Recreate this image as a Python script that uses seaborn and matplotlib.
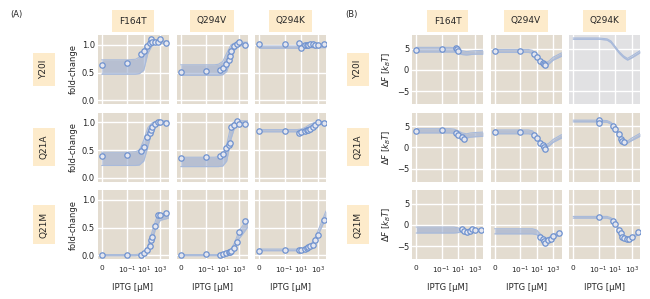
import numpy as np
import pandas as pd
import matplotlib
matplotlib.use("Agg")
import matplotlib.pyplot as plt
import seaborn as sns

# ---- labels ----
rows = ["Y20I", "Q21A", "Q21M"]
cols = ["F164T", "Q294V", "Q294K"]

# ---- IPTG concentrations [uM] ----
conc = [0, 0.1, 5, 10, 25, 50, 75, 100, 250, 500, 1000, 5000]
curve_x = [0, 0.1, 1, 3, 10, 30, 100, 300, 1000, 10000]

# ---- (A) fold-change data ----
fc_Y20I_F164T = [0.63, 0.67, 0.83, 0.89, 0.98, 1.04, 1.10, 1.05, 1.06, 1.05, 1.10, 1.03]
fc_Y20I_Q294V = [0.51, 0.53, 0.55, 0.59, 0.66, 0.72, 0.80, 0.89, 0.98, 1.01, 1.05, 0.99]
fc_Y20I_Q294K = [1.01, 1.01, 1.04, 0.95, 0.99, 0.99, 0.99, 1.01, 1.01, 1.00, 1.00, 1.02]
fc_Q21A_F164T = [0.39, 0.41, 0.49, 0.55, 0.73, 0.80, 0.86, 0.92, 0.98, 1.00, 1.01, 0.99]
fc_Q21A_Q294V = [0.36, 0.38, 0.39, 0.43, 0.53, 0.59, 0.62, 0.91, 0.95, 1.02, 0.98, 0.98]
fc_Q21A_Q294K = [0.84, 0.85, 0.81, 0.83, 0.85, 0.86, 0.86, 0.89, 0.92, 0.96, 1.01, 0.99]
fc_Q21M_F164T = [0.00, 0.00, 0.01, 0.03, 0.09, 0.16, 0.27, 0.33, 0.52, 0.72, 0.72, 0.76]
fc_Q21M_Q294V = [0.00, 0.02, 0.01, 0.02, 0.04, 0.05, 0.05, 0.07, 0.13, 0.23, 0.42, 0.61]
fc_Q21M_Q294K = [0.08, 0.09, 0.09, 0.10, 0.11, 0.13, 0.15, 0.17, 0.19, 0.27, 0.37, 0.64]

# ---- (A) fold-change credible regions (lower, upper) ----
fc_lo_Y20I_F164T = [0.47, 0.47, 0.47, 0.48, 0.54, 0.84, 0.99, 1.03, 1.03, 1.03]
fc_hi_Y20I_F164T = [0.73, 0.73, 0.74, 0.78, 0.93, 1.03, 1.06, 1.07, 1.07, 1.07]
fc_lo_Y20I_Q294V = [0.45, 0.45, 0.45, 0.45, 0.46, 0.52, 0.75, 0.92, 0.98, 1.00]
fc_hi_Y20I_Q294V = [0.64, 0.64, 0.64, 0.65, 0.70, 0.85, 1.00, 1.04, 1.05, 1.05]
fc_lo_Y20I_Q294K = [0.94, 0.94, 0.94, 0.94, 0.94, 0.94, 0.95, 0.95, 0.95, 0.95]
fc_hi_Y20I_Q294K = [0.98, 0.98, 0.98, 0.98, 0.98, 0.98, 0.99, 0.99, 0.99, 0.99]
fc_lo_Q21A_F164T = [0.22, 0.22, 0.22, 0.23, 0.30, 0.55, 0.85, 0.97, 1.00, 1.00]
fc_hi_Q21A_F164T = [0.46, 0.46, 0.47, 0.50, 0.68, 0.90, 0.99, 1.02, 1.03, 1.03]
fc_lo_Q21A_Q294V = [0.20, 0.20, 0.20, 0.20, 0.21, 0.30, 0.70, 0.93, 0.99, 1.00]
fc_hi_Q21A_Q294V = [0.37, 0.37, 0.37, 0.38, 0.42, 0.60, 0.95, 1.02, 1.03, 1.03]
fc_lo_Q21A_Q294K = [0.83, 0.83, 0.83, 0.83, 0.84, 0.86, 0.90, 0.94, 0.96, 0.97]
fc_hi_Q21A_Q294K = [0.87, 0.87, 0.87, 0.87, 0.88, 0.91, 0.96, 0.99, 1.01, 1.02]
fc_lo_Q21M_F164T = [-0.01, -0.01, -0.01, 0.00, 0.01, 0.06, 0.25, 0.50, 0.63, 0.67]
fc_hi_Q21M_F164T = [0.01, 0.01, 0.01, 0.02, 0.05, 0.15, 0.42, 0.65, 0.74, 0.77]
fc_lo_Q21M_Q294V = [-0.01, -0.01, -0.01, -0.01, -0.01, 0.00, 0.04, 0.12, 0.30, 0.50]
fc_hi_Q21M_Q294V = [0.01, 0.01, 0.01, 0.01, 0.02, 0.04, 0.10, 0.24, 0.45, 0.65]
fc_lo_Q21M_Q294K = [0.08, 0.08, 0.08, 0.08, 0.08, 0.09, 0.12, 0.20, 0.35, 0.68]
fc_hi_Q21M_Q294K = [0.11, 0.11, 0.11, 0.11, 0.11, 0.12, 0.16, 0.26, 0.43, 0.80]

# ---- (B) free energy shift data ----
dF_x_Y20I_F164T = [0, 0.1, 5, 7.5, 10]
dF_Y20I_F164T = [4.7, 4.8, 5.2, 5.0, 4.5]
dF_x_Y20I_Q294V = [0, 0.1, 5, 10, 25, 50, 75, 100]
dF_Y20I_Q294V = [4.4, 4.4, 3.8, 3.1, 2.1, 1.7, 1.5, 1.1]
dF_x_Y20I_Q294K = []
dF_Y20I_Q294K = []
dF_x_Q21A_F164T = [0, 0.1, 5, 10, 25, 50]
dF_Q21A_F164T = [3.9, 4.0, 3.5, 3.0, 2.5, 2.0]
dF_x_Q21A_Q294V = [0, 0.1, 5, 10, 25, 50, 75, 100]
dF_Q21A_Q294V = [3.6, 3.7, 2.9, 2.2, 1.0, 0.6, 0.2, -0.3]
dF_x_Q21A_Q294K = [0.1, 0.1, 5, 10, 25, 50, 75, 100]
dF_Q21A_Q294K = [6.4, 5.8, 5.0, 4.3, 3.2, 1.9, 1.4, 1.2]
dF_x_Q21M_F164T = [25, 50, 100, 250, 500, 1000, 5000]
dF_Q21M_F164T = [-1.0, -1.4, -1.6, -1.4, -0.9, -1.2, -1.2]
dF_x_Q21M_Q294V = [25, 50, 75, 100, 250, 500, 1000, 5000]
dF_Q21M_Q294V = [-2.8, -3.4, -3.8, -4.2, -3.5, -3.4, -2.6, -2.0]
dF_x_Q21M_Q294K = [0.1, 5, 10, 25, 50, 75, 100, 250, 500, 1000, 5000]
dF_Q21M_Q294K = [1.8, 1.0, 0.2, -1.1, -1.8, -2.8, -3.0, -3.4, -3.2, -2.8, -1.7]

# ---- (B) free energy credible regions (lower, upper) ----
dF_lo_Y20I_F164T = [4.2, 4.2, 4.2, 4.2, 4.0, 3.6, 3.5, 3.6, 3.7, 3.7]
dF_hi_Y20I_F164T = [5.3, 5.3, 5.3, 5.2, 5.0, 4.5, 4.3, 4.4, 4.5, 4.6]
dF_lo_Y20I_Q294V = [4.1, 4.1, 4.1, 3.9, 2.7, 1.5, 0.9, 1.4, 2.3, 3.2]
dF_hi_Y20I_Q294V = [4.8, 4.8, 4.8, 4.6, 3.4, 2.2, 1.6, 2.1, 3.0, 4.0]
dF_lo_Y20I_Q294K = [7.2, 7.2, 7.0, 6.4, 5.1, 3.9, 2.9, 2.3, 2.8, 4.0]
dF_hi_Y20I_Q294K = [7.5, 7.5, 7.3, 6.8, 5.5, 4.3, 3.3, 2.7, 3.3, 4.5]
dF_lo_Q21A_F164T = [3.4, 3.4, 3.4, 3.3, 2.9, 2.4, 2.2, 2.4, 2.5, 2.6]
dF_hi_Q21A_F164T = [4.4, 4.4, 4.4, 4.3, 3.9, 3.4, 3.2, 3.4, 3.5, 3.6]
dF_lo_Q21A_Q294V = [3.2, 3.2, 3.2, 3.0, 2.0, 0.8, -0.2, 0.3, 1.2, 2.2]
dF_hi_Q21A_Q294V = [4.1, 4.1, 4.1, 3.9, 2.8, 1.5, 0.5, 1.0, 1.9, 3.0]
dF_lo_Q21A_Q294K = [6.0, 6.0, 5.9, 5.5, 4.2, 2.6, 1.2, 1.0, 1.6, 2.6]
dF_hi_Q21A_Q294K = [6.4, 6.4, 6.3, 5.9, 4.7, 3.1, 1.7, 1.5, 2.2, 3.3]
dF_lo_Q21M_F164T = [-1.9, -1.9, -1.9, -1.9, -1.8, -1.6, -1.6, -1.5, -1.5, -1.5]
dF_hi_Q21M_F164T = [-0.5, -0.5, -0.5, -0.5, -0.7, -1.0, -1.1, -1.0, -1.0, -1.0]
dF_lo_Q21M_Q294V = [-2.1, -2.1, -2.1, -2.1, -2.3, -3.2, -4.1, -3.8, -3.0, -2.3]
dF_hi_Q21M_Q294V = [-0.9, -0.9, -0.9, -0.9, -1.2, -2.2, -3.2, -2.9, -2.2, -1.5]
dF_lo_Q21M_Q294K = [1.6, 1.6, 1.6, 1.3, 0.2, -1.4, -3.0, -3.5, -3.2, -2.0]
dF_hi_Q21M_Q294K = [2.0, 2.0, 2.0, 1.7, 0.6, -1.0, -2.6, -3.1, -2.8, -1.6]

# ---- style ----
bg = "#E3DCD0"
nodata_bg = "#E1E1E3"
strip_bg = "#FDEBCB"
pt_edge = "#6F92CF"
pt_face = "#E4E6EF"
band_col = "#9AADD2"
band_edge = "#A8BADB"

sns.set_style("darkgrid", {"axes.facecolor": bg, "grid.color": "white",
                           "axes.edgecolor": bg})
plt.rcParams["font.family"] = ["DejaVu Sans"]
plt.rcParams["font.size"] = 6
plt.rcParams["mathtext.fontset"] = "dejavusans"

W, H = 650, 299
fig = plt.figure(figsize=(W / 100, H / 100), dpi=100)

col_left_A = [97.5, 176.5, 255.0]
col_left_B = [412.0, 490.5, 569.0]
row_top = [35.0, 112.5, 190.0]
aw, ah = 71.0, 69.0

xticks = [0, 1e-1, 1e1, 1e3]
xticklabels = ["0", r"$10^{-1}$", r"$10^{1}$", r"$10^{3}$"]


def make_ax(left, top):
    return fig.add_axes([left / W, 1 - (top + ah) / H, aw / W, ah / H])


def style_ax(ax, i, j, yticks, yticklabels, ylim):
    ax.set_xscale("symlog", linthresh=1e-3, linscale=1)
    ax.set_xlim(-4.5e-4, 1e4)
    ax.set_ylim(*ylim)
    ax.set_xticks(xticks)
    ax.minorticks_off()
    ax.set_yticks(yticks)
    ax.grid(True, color="white", lw=1.0)
    ax.tick_params(axis="y", length=0, pad=2, labelsize=6)
    ax.tick_params(axis="x", length=0, pad=4, labelsize=5.3)
    for s in ax.spines.values():
        s.set_visible(False)
    if i == 2:
        ax.set_xticklabels(xticklabels)
        ax.set_xlabel("IPTG [µM]", fontsize=6, labelpad=5)
    else:
        ax.set_xticklabels([])
        ax.set_xlabel("")
    if j == 0:
        ax.set_yticklabels(yticklabels)
    else:
        ax.set_yticklabels([])
    ax.set_ylabel("")


g = globals()
strip_kw = dict(boxstyle="square,pad=0.75", fc=strip_bg, ec="none")

for i, r in enumerate(rows):
    for j, c in enumerate(cols):
        key = f"{r}_{c}"
        # ---- (A) ----
        ax = make_ax(col_left_A[j], row_top[i])
        lo, hi = g["fc_lo_" + key], g["fc_hi_" + key]
        ax.fill_between(curve_x, lo, hi, color=band_col, alpha=0.6, lw=0, zorder=2)
        sns.lineplot(x=curve_x, y=lo, ax=ax, color=band_edge, lw=0.8, zorder=3)
        sns.lineplot(x=curve_x, y=hi, ax=ax, color=band_edge, lw=0.8, zorder=3)
        sns.scatterplot(x=conc, y=g["fc_" + key], ax=ax, s=15, marker="o",
                        facecolor=pt_face, edgecolor=pt_edge, linewidth=0.9, zorder=4)
        style_ax(ax, i, j, [0, 0.5, 1.0], ["0.0", "0.5", "1.0"], (-0.07, 1.18))
        if j == 0:
            ax.set_ylabel("fold-change", fontsize=6, labelpad=3)

        # ---- (B) ----
        ax = make_ax(col_left_B[j], row_top[i])
        lo, hi = g["dF_lo_" + key], g["dF_hi_" + key]
        xs, ys = g["dF_x_" + key], g["dF_" + key]
        if len(xs) == 0:
            ax.set_facecolor(nodata_bg)
        ax.fill_between(curve_x, lo, hi, color=band_col, alpha=0.6, lw=0, zorder=2)
        sns.lineplot(x=curve_x, y=lo, ax=ax, color=band_edge, lw=0.8, zorder=3)
        sns.lineplot(x=curve_x, y=hi, ax=ax, color=band_edge, lw=0.8, zorder=3)
        if len(xs):
            sns.scatterplot(x=xs, y=ys, ax=ax, s=15, marker="o",
                            facecolor=pt_face, edgecolor=pt_edge, linewidth=0.9, zorder=4)
        style_ax(ax, i, j, [-5, 0, 5], ["\u22125", "0", "5"], (-8.0, 8.2))
        if j == 0:
            ax.set_ylabel(r"$\Delta F$ [$k_BT$]", fontsize=6, labelpad=3)

# column strips
for j, c in enumerate(cols):
    for left in (col_left_A[j], col_left_B[j]):
        fig.text((left + aw / 2) / W, 1 - 21 / H, c, ha="center", va="center",
                 fontsize=6.5, bbox=strip_kw)
# row strips
for i, r in enumerate(rows):
    yc = 1 - (row_top[i] + ah / 2) / H
    for xc in (44, 358):
        fig.text(xc / W, yc, r, ha="center", va="center", rotation=90,
                 fontsize=6.5, bbox=strip_kw)

fig.text(10 / W, 1 - 14 / H, "(A)", ha="left", va="center", fontsize=6)
fig.text(345 / W, 1 - 14 / H, "(B)", ha="left", va="center", fontsize=6)

fig.savefig("out.png", dpi=100)
